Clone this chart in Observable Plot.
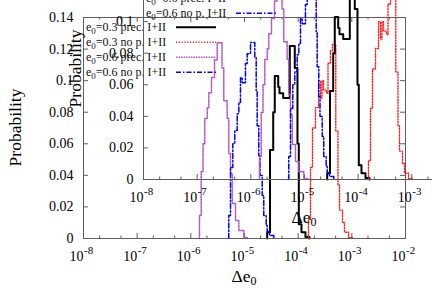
<!DOCTYPE html>
<html><head><meta charset="utf-8">
<script src="https://cdn.jsdelivr.net/npm/d3@7"></script>
<script src="https://cdn.jsdelivr.net/npm/@observablehq/plot@0.6"></script>
<style>
html,body{margin:0;padding:0;background:#fff;overflow:hidden;}
#wrap{position:relative;width:432px;height:302px;overflow:hidden;background:#fff;}
#wrap svg{position:absolute;max-width:none;}
</style></head><body><div id="wrap"></div>
<script>
const FONT = "'Liberation Serif','DejaVu Serif','Times New Roman',serif";

// legend labels (after "e" with subscript 0)
const legendLabels = ["=0.3 prec. I+II", "=0.3 no p. I+II", "=0.6 prec. I+II", "=0.6 no p. I+II"];

// histogram bin edges (log10 of Δe0) and probability per bin
const blackEdges = [-4.577, -4.525, -4.465, -4.436, -4.372, -4.348, -4.279, -4.156, -4.063, -4.013, -3.988, -3.938, -3.864, -3.789];
const blackProb  = [0.004, 0.056, 0.080, 0.103, 0.096, 0.092, 0.089, 0.122, 0.108, 0.060, 0.009, 0.004, 0.001];

const redEdges = [-3.808, -3.770, -3.733, -3.677, -3.621, -3.584, -3.556, -3.528, -3.472, -3.444, -3.398, -3.361, -3.299, -3.258, -3.230, -3.174, -3.137, -3.062, -2.988];
const redProb  = [0.012, 0.045, 0.070, 0.083, 0.100, 0.089, 0.100, 0.094, 0.092, 0.111, 0.119, 0.123, 0.068, 0.034, 0.018, 0.010, 0.004, 0.0006];

const purpleEdges = [-5.839, -5.807, -5.773, -5.740, -5.695, -5.665, -5.615, -5.559, -5.509, -5.419, -5.386, -5.323, -5.293, -5.261, -5.229, -5.168, -5.106, -5.013, -4.950];
const purpleProb  = [0.0146, 0.0424, 0.0601, 0.0760, 0.0829, 0.0924, 0.102, 0.113, 0.124, 0.108, 0.0873, 0.076, 0.0538, 0.0411, 0.0222, 0.0114, 0.0051, 0.0006];

const blueEdges = [-5.293, -5.261, -5.218, -5.181, -5.136, -5.106, -5.075, -5.043, -4.982, -4.950, -4.888, -4.808, -4.782, -4.764, -4.734, -4.711, -4.670, -4.641, -4.596, -4.577, -4.534, -4.454];
const blueProb  = [0.0146, 0.0449, 0.0601, 0.0684, 0.0791, 0.0861, 0.1019, 0.0987, 0.1108, 0.1171, 0.1241, 0.1146, 0.0937, 0.0715, 0.0525, 0.0399, 0.0272, 0.0146, 0.0082, 0.0044, 0.0019];

// axis ticks
const xMajor = [1e-8, 1e-7, 1e-6, 1e-5, 1e-4, 1e-3, 1e-2];
const xMajorExp = ["-8", "-7", "-6", "-5", "-4", "-3", "-2"];
const xMinor = [2e-8, 5e-8, 2e-7, 5e-7, 2e-6, 5e-6, 2e-5, 5e-5, 2e-4, 5e-4, 2e-3, 5e-3];
const yTicks = [0, 0.02, 0.04, 0.06, 0.08, 0.10, 0.12, 0.14];
const yTickLabels = ["0", "0.02", "0.04", "0.06", "0.08", "0.1", "0.12", "0.14"];

const seriesStyles = [
  {stroke: "#000000", strokeWidth: 2, dash: null},
  {stroke: "#ff1a1a", strokeWidth: 1.4, dash: "1.2,1.6"},
  {stroke: "#b355c6", strokeWidth: 1.5, dash: "1.5,1"},
  {stroke: "#0000ff", strokeWidth: 1.5, dash: "5,2,1.5,2"}
];
const seriesData = [[blackEdges, blackProb], [redEdges, redProb], [purpleEdges, purpleProb], [blueEdges, blueProb]];

function steps(edges, probs) {
  const pts = [{x: 10 ** edges[0], y: 0}];
  probs.forEach((p, i) => pts.push({x: 10 ** edges[i], y: p}));
  pts.push({x: 10 ** edges[edges.length - 1], y: 0});
  return pts;
}

const W = 432, H = 302, ML = 83, MR = 27, MT = 17, MB = 64;
const FW = W - ML - MR, FH = H - MT - MB;
const AX = "#5e5e5e";

function makeChart() {
  const lines = seriesData.map(([e, p], i) => {
    const s = seriesStyles[i];
    return Plot.line(steps(e, p), {x: "x", y: "y", curve: "step-after", stroke: s.stroke,
      strokeWidth: s.strokeWidth, strokeDasharray: s.dash || undefined});
  });
  const chart = Plot.plot({
    width: W, height: H,
    marginLeft: ML, marginRight: MR, marginTop: MT, marginBottom: MB,
    x: {type: "log", domain: [1e-8, 1e-2], axis: null},
    y: {domain: [0, 0.14], axis: null},
    style: {background: "transparent", fontFamily: FONT, overflow: "visible", color: "#000"},
    marks: [
      Plot.ruleX(xMajor, {x: d => d, insetTop: FH - 5, stroke: AX}),
      Plot.ruleX(xMajor, {x: d => d, insetBottom: FH - 5, stroke: AX}),
      Plot.ruleX(xMinor, {x: d => d, insetTop: FH - 2.5, stroke: AX}),
      Plot.ruleX(xMinor, {x: d => d, insetBottom: FH - 2.5, stroke: AX}),
      Plot.ruleY(yTicks, {y: d => d, insetRight: FW - 5, stroke: AX}),
      Plot.ruleY(yTicks, {y: d => d, insetLeft: FW - 5, stroke: AX}),
      ...lines,
      Plot.frame({stroke: AX, strokeWidth: 1}),
      Plot.text(yTicks, {y: d => d, text: (d, i) => yTickLabels[i], frameAnchor: "left", textAnchor: "end", dx: -10, fontSize: 14, fill: "#000"}),
      Plot.text(xMajor, {x: d => d, text: () => "10", frameAnchor: "bottom", textAnchor: "end", lineAnchor: "bottom", dy: 22, fontSize: 14, fill: "#000"}),
      Plot.text(xMajor, {x: d => d, text: (d, i) => xMajorExp[i], frameAnchor: "bottom", textAnchor: "start", lineAnchor: "bottom", dx: 0.5, dy: 15.5, fontSize: 11, fill: "#000"})
    ]
  });
  const svg = d3.select(chart);
  // axis titles
  svg.append("text").attr("font-family", FONT).attr("font-size", 17.5).attr("fill", "#000")
    .attr("text-anchor", "middle").attr("dominant-baseline", "central")
    .attr("transform", `translate(${ML - 68.5},${MT + FH / 2}) rotate(-90)`).text("Probability");
  const xl = svg.append("text").attr("font-family", FONT).attr("font-size", 17.5).attr("fill", "#000")
    .attr("text-anchor", "middle").attr("x", ML + FW / 2).attr("y", MT + FH + 44);
  xl.append("tspan").text("Δe");
  xl.append("tspan").attr("font-size", 12).attr("dy", 3).text("0");
  // legend
  const g = svg.append("g").attr("font-family", FONT).attr("font-size", 12);
  legendLabels.forEach((lab, i) => {
    const y = MT + 10.3 + 15 * i;
    const t = g.append("text").attr("x", ML + 3).attr("y", y + 3.5).attr("fill", "#111").attr("text-anchor", "start");
    t.append("tspan").text("e");
    t.append("tspan").attr("font-size", 9).attr("dy", 3).text("0");
    t.append("tspan").attr("dy", -3).text(lab);
    const s = seriesStyles[i];
    g.append("line").attr("x1", ML + 93).attr("x2", ML + 133).attr("y1", y).attr("y2", y)
      .attr("stroke", s.stroke).attr("stroke-width", s.strokeWidth)
      .attr("stroke-dasharray", s.dash);
  });
  return chart;
}

const wrap = document.getElementById("wrap");
const mainChart = makeChart();
mainChart.style.left = "0px"; mainChart.style.top = "0px";
wrap.appendChild(mainChart);
const insetChart = makeChart();
insetChart.style.left = "60px"; insetChart.style.top = "-59px";
wrap.appendChild(insetChart);
</script>
</body></html>
